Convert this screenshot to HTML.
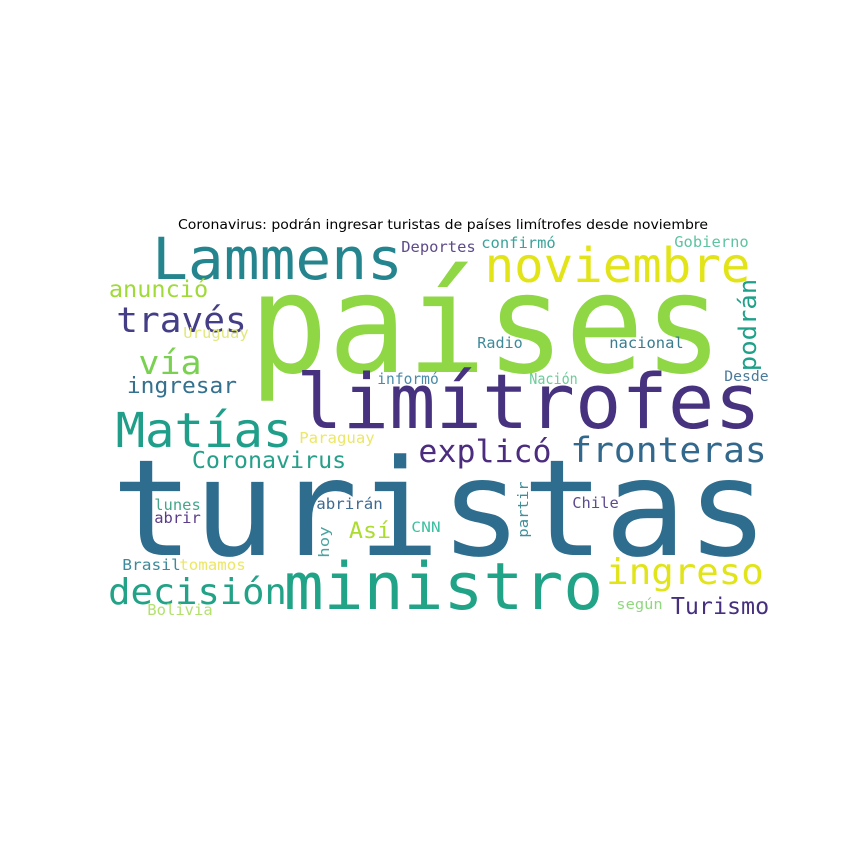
<!DOCTYPE html>
<html><head><meta charset="utf-8"><style>
html,body{margin:0;padding:0;background:#fff;}
svg{display:block;}
text{font-family:"DejaVu Sans Mono","Liberation Mono",monospace;}
</style></head><body>
<svg id="cloud" width="864" height="864" viewBox="0 0 864 864" xmlns="http://www.w3.org/2000/svg">
<rect width="864" height="864" fill="#fff"/>
<text x="178" y="229" font-size="13" textLength="530" lengthAdjust="spacingAndGlyphs" style="font-family:'DejaVu Sans','Liberation Sans',sans-serif" fill="#000">Coronavirus: podrán ingresar turistas de países limítrofes desde noviembre</text>
<g id="words"></g>
</svg>
<script>
const words  = ["países","turistas","limítrofes","Lammens","noviembre","ministro","Matías","través","vía","anunció","ingresar","Uruguay","Deportes","confirmó","Gobierno","podrán","Radio","nacional","Desde","Nación","informó","explicó","fronteras","Coronavirus","Paraguay","lunes","abrir","abrirán","Así","hoy","CNN","partir","Chile","Brasil","tomamos","decisión","Bolivia","ingreso","Turismo","según"];
const sizes  = [138,134,76,58,48,65,48,35,33,23,22,15,15,15,15,24,15,15,14,15,15,31,35,23,15,15,15,15,22,14,14,14,15,15,15,36,15,36,23,14];
const inkX   = [256,118,300,155,487,287,118,118,140,110,128,184,402,482,675,756,478,610,725,530,378,420,572,193,300,155,155,317,350,329,412,528,573,123,180,110,148,608,672,617];
const inkY   = [372,555,428,279,282,609,447,332,374,297,393,338,252,248,247,370,348,348,381,384,384,462,462,468,443,510,523,509,538,557,532,537,508,570,570,604,615,584,614,609];
const inkW   = [460,644,457,245,261,313,172,127,60,97,108,64,73,73,73,90,44,73,43,47,60,130,193,152,74,45,45,65,40,30,28,55,45,57,65,175,64,154,96,45];
const rotated= [0,0,0,0,0,0,0,0,0,0,0,0,0,0,0,1,0,0,0,0,0,0,0,0,0,0,0,0,0,1,0,1,0,0,0,0,0,0,0,0];
const colors = ["#8fd744","#2e6d8e","#46327e","#25858e","#e2e418","#20a386","#1f9e89","#433e85","#7ad151","#a0da39","#35718f","#e2e77a","#5e4b8b","#3aa39a","#5ec4a0","#1fa088","#3e8a99","#3a7c8e","#4a7a9a","#6ccc9a","#4a8aa8","#4b2c7f","#33688d","#27a08a","#ece766","#46a58a","#5b3c8a","#3d6a92","#addc30","#4aa3a0","#3ec0a0","#3f8f9a","#5e4a90","#3e8a9a","#ece766","#22a286","#b4e070","#e0e418","#46307e","#90d780"];
const g = document.getElementById('words');
const NS = "http://www.w3.org/2000/svg";
for (let i = 0; i < words.length; i++) {
  const t = document.createElementNS(NS, 'text');
  
  
  const pad = 0.05 * sizes[i];
  t.setAttribute('font-size', sizes[i]);
  t.setAttribute('fill', colors[i]);
  t.setAttribute('textLength', inkW[i] + 2 * pad);
  t.setAttribute('lengthAdjust', 'spacingAndGlyphs');
  if (rotated[i]) {
    t.setAttribute('x', 0);
    t.setAttribute('y', 0);
    t.setAttribute('transform', 'translate(' + inkX[i] + ',' + (inkY[i] + pad) + ') rotate(-90)');
  } else {
    t.setAttribute('x', inkX[i] - pad);
    t.setAttribute('y', inkY[i]);
  }
  t.textContent = words[i];
  g.appendChild(t);
}
</script>
</body></html>
